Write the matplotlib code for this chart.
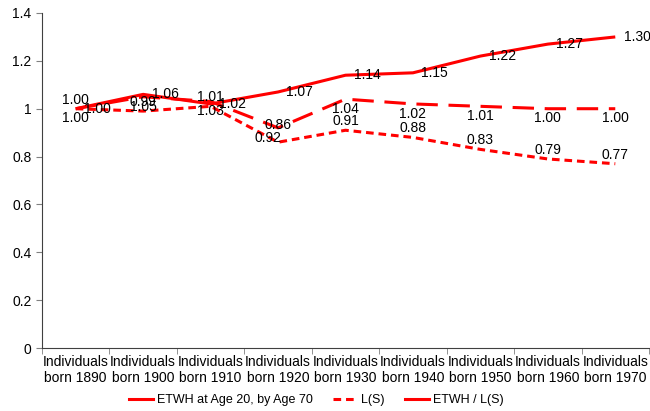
import numpy as np
import matplotlib.pyplot as plt
from matplotlib.lines import Line2D

plt.rcParams['font.family'] = ['Liberation Sans', 'DejaVu Sans']

# Data
cohorts = ['1890', '1900', '1910', '1920', '1930', '1940', '1950', '1960', '1970']
etwh = [1.00, 1.06, 1.02, 1.07, 1.14, 1.15, 1.22, 1.27, 1.30]
ls = [1.00, 0.99, 1.01, 0.86, 0.91, 0.88, 0.83, 0.79, 0.77]
ratio = [1.00, 1.05, 1.03, 0.92, 1.04, 1.02, 1.01, 1.00, 1.00]

red = '#ff0000'
x = np.arange(len(cohorts))
fs = 10

fig = plt.figure(figsize=(6.5, 4.11), dpi=100)
ax = fig.add_axes([42 / 650, 63 / 411, 607 / 650, 335 / 411])

ax.plot(x, etwh, color=red, lw=2.2, solid_capstyle='butt')
l_ls, = ax.plot(x, ls, color=red, lw=2.2)
l_ls.set_dashes([2.5, 1.6])
l_r, = ax.plot(x, ratio, color=red, lw=2.2)
l_r.set_dashes([7, 3.5])

# Data labels: right for ETWH, above for L(S), below for ratio
for i in x:
    ax.annotate(f'{etwh[i]:.2f}', (i, etwh[i]), xytext=(6, 0), textcoords='offset points',
                ha='left', va='center', fontsize=fs)
    up = 7 if i == 3 else 1.5
    ax.annotate(f'{ls[i]:.2f}', (i, ls[i]), xytext=(0, up), textcoords='offset points',
                ha='center', va='bottom', fontsize=fs)
    dx = -7 if i == 3 else 0
    ax.annotate(f'{ratio[i]:.2f}', (i, ratio[i]), xytext=(dx, -2), textcoords='offset points',
                ha='center', va='top', fontsize=fs)

ax.set_xlim(-0.5, len(cohorts) - 0.5)
ax.set_ylim(0, 1.4)
ax.set_yticks(np.arange(0, 1.41, 0.2))
ax.set_yticklabels(['0', '0.2', '0.4', '0.6', '0.8', '1', '1.2', '1.4'])
ax.set_xticks(x)
ax.set_xticklabels([f'Individuals\nborn {c}' for c in cohorts])
ax.set_xticks(np.arange(-0.5, len(cohorts), 1), minor=True)
ax.tick_params(axis='x', which='major', length=0, pad=5, labelsize=fs)
ax.tick_params(axis='x', which='minor', length=4, color='#808080')
ax.tick_params(axis='y', length=4, labelsize=fs, color='#808080')

for s in ['top', 'right']:
    ax.spines[s].set_visible(False)
ax.spines['left'].set_color('#404040')
ax.spines['bottom'].set_color('#404040')

handles = [Line2D([], [], color=red, lw=2.2),
           Line2D([], [], color=red, lw=2.2, dashes=[2.5, 1.6]),
           Line2D([], [], color=red, lw=2.2)]
fig.legend(handles, ['ETWH at Age 20, by Age 70', 'L(S)', 'ETWH / L(S)'],
           loc='center', bbox_to_anchor=(0.487, 0.026), ncol=3, frameon=False,
           fontsize=9, handlelength=1.9, handletextpad=0.35, columnspacing=1.6)

fig.savefig('out.png', dpi=100)
